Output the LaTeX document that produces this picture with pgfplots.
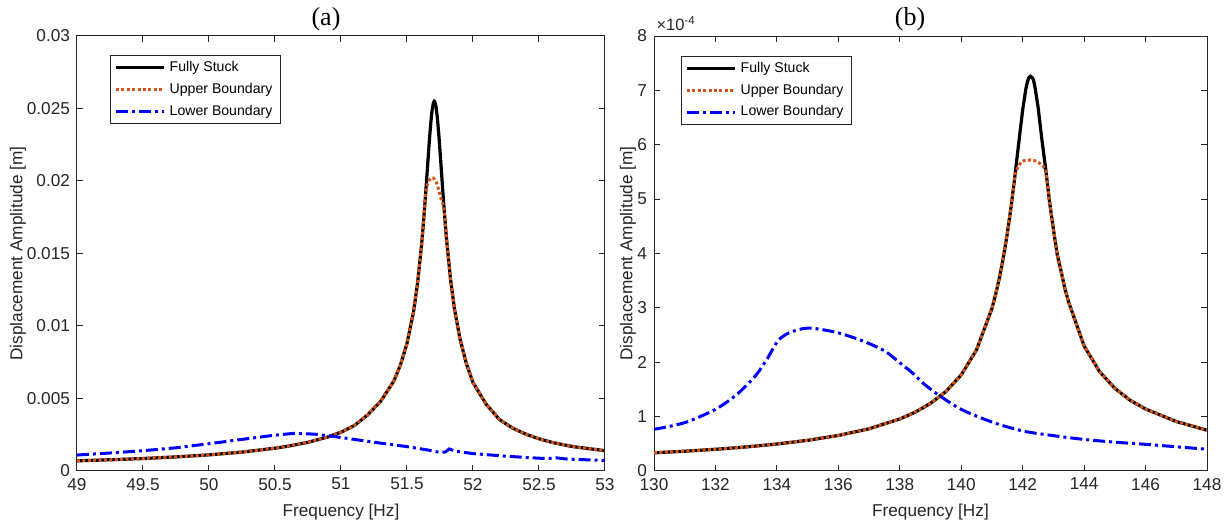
\documentclass[border=0pt]{standalone}
\usepackage{fontspec}
\setmainfont{Liberation Sans}
\newfontfamily\titlefont{Liberation Serif}
\usepackage{pgfplots}
\pgfplotsset{compat=1.18}
\definecolor{morange}{rgb}{0.85,0.325,0.098}
\definecolor{axgray}{rgb}{0.15,0.15,0.15}
\tikzset{ttl/.style={anchor=center, inner sep=0pt, font=\titlefont\fontsize{13}{15}\selectfont, text=black, yshift=8.5pt}}
\pgfplotsset{
 mystyle/.style={
  scale only axis, height=217.5pt,
  clip mode=individual,
  scaled x ticks=false, scaled y ticks=false,
  axis line style={axgray, line width=0.5pt},
  tick style={axgray, line width=0.5pt},
  major tick length=3pt,
  tick align=inside,
  tick pos=both,
  ticklabel style={font=\fontsize{8.6}{10}\selectfont, text=axgray},
  label style={font=\fontsize{8.6}{10}\selectfont, text=axgray},
  /pgf/number format/assume math mode=true,
  legend cell align=left,
  legend style={font=\fontsize{7.05}{8.5}\selectfont, draw=axgray, line width=0.5pt, anchor=north west, inner xsep=2pt, inner ysep=0.8pt, row sep=0.3pt},
  legend image code/.code={\draw[#1] (0pt,0pt) -- (24pt,0pt);},
 },
 fs/.style={black, line width=1.6pt},
 ub/.style={morange, line width=1.5pt, dash pattern=on 1.5pt off 1.2pt},
 lb/.style={blue, line width=1.5pt, dash pattern=on 6pt off 2pt on 1.5pt off 2pt},
}
\begin{document}
\begin{tikzpicture}
\begin{axis}[mystyle, at={(38.5pt,28.5pt)}, anchor=south west, width=264pt,
  xmin=49, xmax=53, ymin=0, ymax=0.03,
  xtick={49,49.5,...,53},
  ytick={0,0.005,0.01,0.015,0.02,0.025,0.03},
  yticklabels={0,0.005,0.01,0.015,0.02,0.025,0.03},
  xlabel={Frequency [Hz]}, ylabel={Displacement Amplitude [m]},
  xlabel style={at={(axis description cs:0.5,-0.094)}, anchor=center},
  ylabel style={at={(axis description cs:-0.1117,0.5)}, anchor=center},
  legend style={at={(axis description cs:0.0625,0.956)}},
]
\addplot[fs] coordinates {
(49,0.000702) (49.25,0.000773) (49.5,0.000860) (49.75,0.000970) (50,0.001112)
(50.25,0.001302) (50.5,0.001571) (50.6,0.001712) (50.75,0.001979) (50.9,0.002345)
(51,0.002673) (51.1,0.003130) (51.2,0.003850) (51.3,0.004800) (51.4,0.006200)
(51.45,0.007300) (51.5,0.008800) (51.55,0.011000) (51.58,0.012950) (51.61,0.015550)
(51.62,0.016590) (51.64,0.018960) (51.65,0.020260) (51.66,0.021570) (51.67,0.022840)
(51.68,0.023980) (51.69,0.024870) (51.70,0.025390) (51.707,0.025500) (51.71,0.025480)
(51.72,0.025130) (51.73,0.024370) (51.74,0.023320) (51.75,0.022090) (51.76,0.020780)
(51.77,0.019470) (51.78,0.018220) (51.79,0.017040) (51.80,0.015940)
(51.83,0.013210) (51.86,0.011160) (51.9,0.009180) (51.95,0.007400) (52.0,0.006100)
(52.1,0.004600) (52.2,0.003550) (52.3,0.002960) (52.4,0.002540) (52.5,0.002220)
(52.6,0.001970) (52.75,0.001690) (53,0.001400)};
\addlegendentry{Fully Stuck}
\addplot[ub] coordinates {
(49,0.000702) (49.25,0.000773) (49.5,0.000860) (49.75,0.000970) (50,0.001112)
(50.25,0.001302) (50.5,0.001571) (50.6,0.001712) (50.75,0.001979) (50.9,0.002345)
(51,0.002673) (51.1,0.003130) (51.2,0.003850) (51.3,0.004800) (51.4,0.006200)
(51.45,0.007300) (51.5,0.008800) (51.55,0.011000) (51.58,0.012950) (51.61,0.015550)
(51.62,0.016590) (51.64,0.018960) (51.65,0.019600) (51.665,0.020000) (51.68,0.020200)
(51.70,0.020200) (51.72,0.020000) (51.74,0.019400) (51.76,0.018700) (51.78,0.018220)
(51.79,0.017040) (51.80,0.015940)
(51.83,0.013210) (51.86,0.011160) (51.9,0.009180) (51.95,0.007400) (52.0,0.006100)
(52.1,0.004600) (52.2,0.003550) (52.3,0.002960) (52.4,0.002540) (52.5,0.002220)
(52.6,0.001970) (52.75,0.001690) (53,0.001400)};
\addlegendentry{Upper Boundary}
\addplot[lb] coordinates {
(49,0.00110) (49.25,0.00124) (49.5,0.00140) (49.75,0.00160) (50,0.00188)
(50.25,0.00218) (50.5,0.00247) (50.65,0.00260) (50.8,0.00254) (50.93,0.00240)
(51.1,0.00218) (51.3,0.00192) (51.5,0.00168) (51.65,0.00146) (51.75,0.00128)
(51.79,0.00131) (51.82,0.00152) (51.86,0.00138) (52,0.00120) (52.25,0.00102)
(52.5,0.00088) (52.6,0.00086) (52.63,0.00091) (52.7,0.00083) (53,0.00072)};
\addlegendentry{Lower Boundary}
\node[ttl] at (axis description cs:0.4716,1) {(a)};
\end{axis}

\begin{axis}[mystyle, at={(327pt,28.5pt)}, anchor=south west, width=276.5pt,
  xmin=130, xmax=148, ymin=0, ymax=8,
  xtick={130,132,...,148},
  ytick={0,1,...,8},
  xlabel={Frequency [Hz]}, ylabel={Displacement Amplitude [m]},
  xlabel style={at={(axis description cs:0.5,-0.094)}, anchor=center},
  ylabel style={at={(axis description cs:-0.047,0.5)}, anchor=center},
  legend style={at={(axis description cs:0.0488,0.954)}},
]
\addplot[fs] coordinates {
(130,0.334) (131,0.364) (132,0.399) (133,0.442) (134,0.496) (135,0.564) (136,0.653)
(137,0.776) (138,0.956) (138.5,1.081) (139,1.243) (139.5,1.460) (140,1.767)
(140.5,2.230) (141,2.989) (141.125,3.257) (141.25,3.570) (141.375,3.937) (141.5,4.367)
(141.625,4.867) (141.75,5.435) (141.875,6.048) (142,6.638) (142.1,7.016) (142.15,7.148)
(142.2,7.231) (142.25,7.259) (142.3,7.240) (142.35,7.200) (142.4,7.060) (142.5,6.700)
(142.625,6.100) (142.75,5.550) (142.875,4.950) (143,4.450)
(143.125,3.980) (143.25,3.680) (143.375,3.350) (143.5,3.100) (144,2.300) (144.5,1.830)
(145,1.520) (145.5,1.300) (146,1.140) (147,0.910) (148,0.750)};
\addlegendentry{Fully Stuck}
\addplot[ub] coordinates {
(130,0.334) (131,0.364) (132,0.399) (133,0.442) (134,0.496) (135,0.564) (136,0.653)
(137,0.776) (138,0.956) (138.5,1.081) (139,1.243) (139.5,1.460) (140,1.767)
(140.5,2.230) (141,2.989) (141.125,3.257) (141.25,3.570) (141.375,3.937) (141.5,4.367)
(141.625,4.867) (141.75,5.435) (141.85,5.60) (141.95,5.68) (142.05,5.71) (142.25,5.72)
(142.45,5.70) (142.6,5.64) (142.7,5.58) (142.75,5.550) (142.875,4.950) (143,4.450)
(143.125,3.980) (143.25,3.680) (143.375,3.350) (143.5,3.100) (144,2.300) (144.5,1.830)
(145,1.520) (145.5,1.300) (146,1.140) (147,0.910) (148,0.750)};
\addlegendentry{Upper Boundary}
\addplot[lb, smooth] coordinates {
(130,0.766) (131,0.889) (132,1.134) (132.7,1.41) (133.3,1.75) (133.67,2.05)
(134.03,2.39) (134.39,2.54) (134.87,2.62) (135.24,2.62) (136,2.54) (136.8,2.39)
(137.5,2.21) (138,1.99) (138.4,1.81) (138.75,1.62) (139.23,1.41) (140,1.134)
(141,0.90) (142,0.736) (143,0.65) (144,0.58) (145,0.53) (146,0.49) (147,0.445) (148,0.40)};
\addlegendentry{Lower Boundary}
\node[anchor=south west, inner sep=0pt, font=\fontsize{8.2}{9}\selectfont, text=axgray] at (axis description cs:0.004,1.012) {×10\textsuperscript{-4}};
\node[ttl] at (axis description cs:0.463,1) {(b)};
\end{axis}
\pgfresetboundingbox
\path[use as bounding box] (0,0) rectangle (614pt,264pt);
\end{tikzpicture}
\end{document}
